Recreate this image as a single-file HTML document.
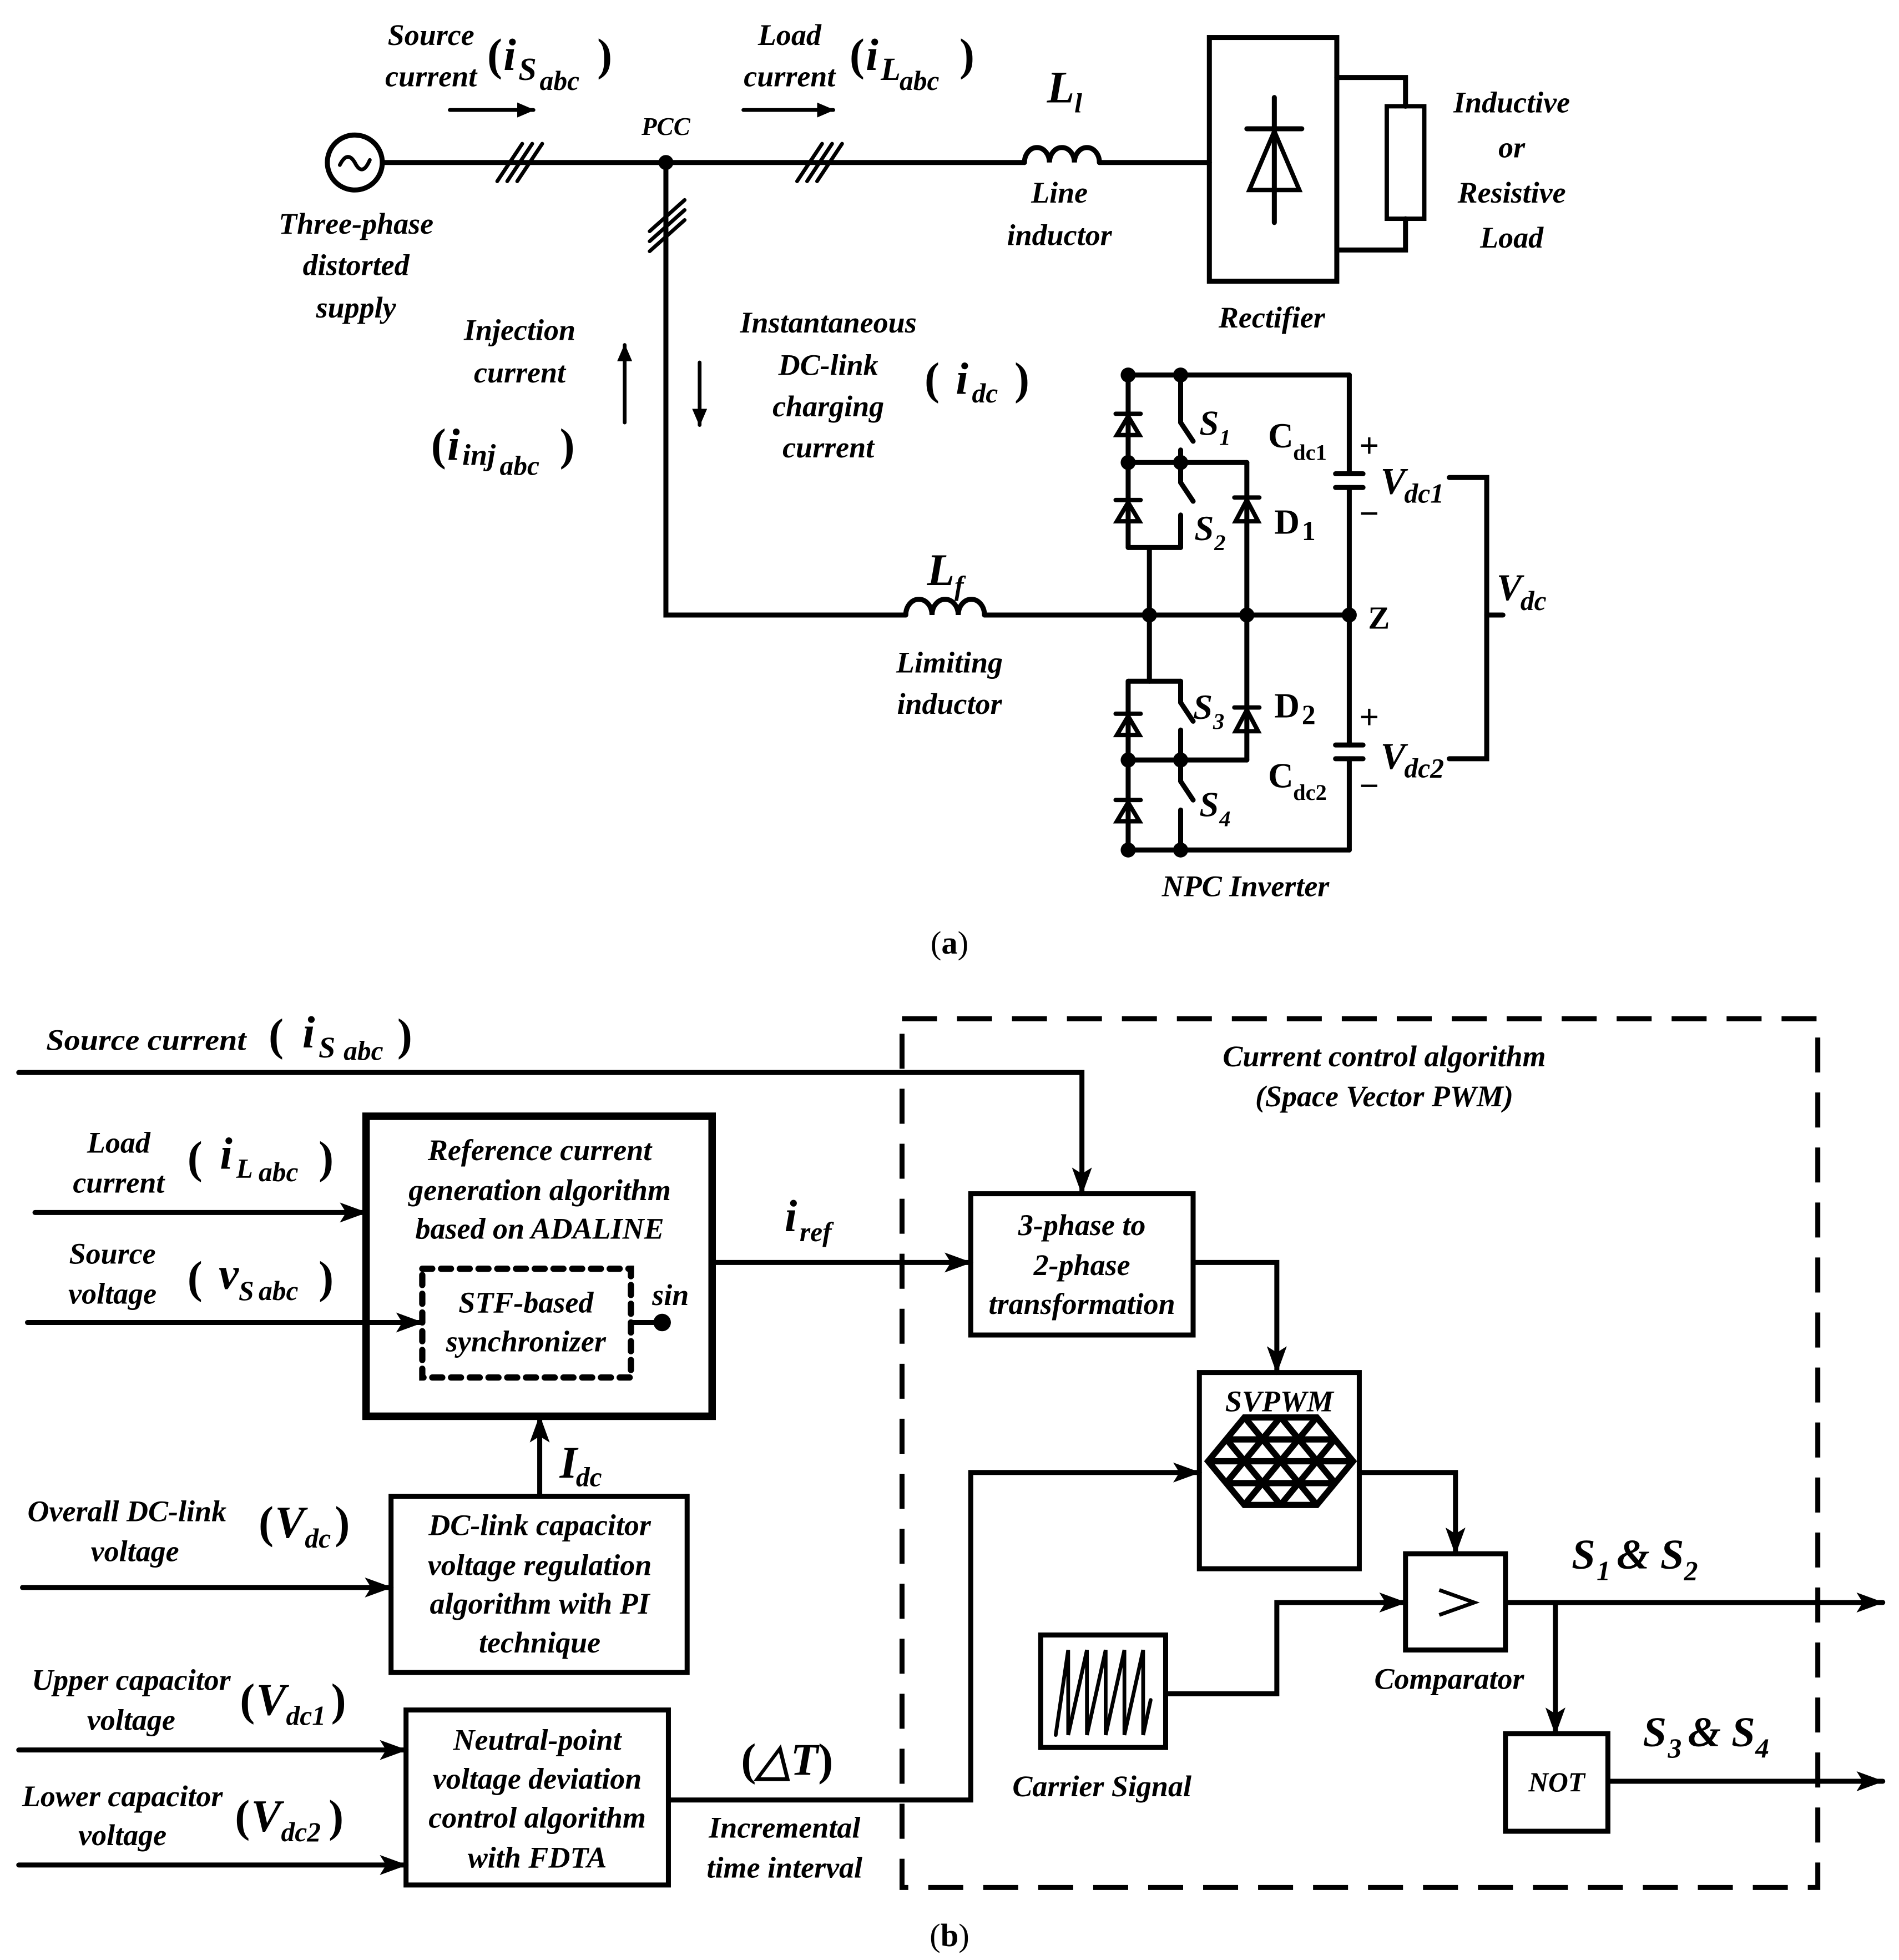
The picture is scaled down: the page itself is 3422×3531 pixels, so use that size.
<!DOCTYPE html>
<html><head><meta charset="utf-8"><style>
html,body{margin:0;padding:0;background:#fff}
svg{display:block}
text{font-family:"Liberation Serif",serif;font-weight:bold;font-style:italic;font-size:24px;fill:#000}
.n{font-style:normal}
.big{font-size:36px}
.sub{font-size:22px}
</style></head><body>
<svg width="3422" height="3531" viewBox="0 0 1520 1568" preserveAspectRatio="none" xmlns="http://www.w3.org/2000/svg">
<defs>
<marker id="ar" markerWidth="22" markerHeight="16" refX="21" refY="8" orient="auto" markerUnits="userSpaceOnUse">
<path d="M0,0 L22,8 L0,16 L5,8 Z" fill="#000"/></marker>
<marker id="ar2" markerWidth="14" markerHeight="12" refX="13" refY="6" orient="auto" markerUnits="userSpaceOnUse">
<path d="M0,0 L14,6 L0,12 Z" fill="#000"/></marker>
<clipPath id="hex"><polygon points="996,1134 1054,1134 1083,1169 1054,1204 996,1204 967,1169"/></clipPath>
</defs>
<g stroke="#000" stroke-width="4" fill="none" stroke-linecap="round">
<circle cx="284" cy="130" r="22"/>
<path d="M272,132 q6,-12 12,-2 q6,12 12,-2" stroke-width="3"/>
<line x1="306" y1="130" x2="820" y2="130"/>
<g stroke-width="3"><line x1="398" y1="145" x2="418" y2="115"/><line x1="406" y1="145" x2="426" y2="115"/><line x1="414" y1="145" x2="434" y2="115"/>
<line x1="638" y1="145" x2="658" y2="115"/><line x1="646" y1="145" x2="666" y2="115"/><line x1="654" y1="145" x2="674" y2="115"/>
<line x1="520" y1="185" x2="548" y2="160"/><line x1="520" y1="193" x2="548" y2="168"/><line x1="520" y1="201" x2="548" y2="176"/></g>
<path d="M820,130 a10,12 0 0 1 20,0 a10,12 0 0 1 20,0 a10,12 0 0 1 20,0"/>
<line x1="880" y1="130" x2="968" y2="130"/>
<rect x="968" y="30" width="102" height="195"/>
<line x1="1020" y1="78" x2="1020" y2="178"/>
<polygon points="1000,152 1040,152 1020,105" stroke-width="3.5"/>
<line x1="998" y1="103" x2="1042" y2="103"/>
<polyline points="1070,62 1125,62 1125,85"/>
<polyline points="1070,200 1125,200 1125,175"/>
<rect x="1110" y="85" width="30" height="90" stroke-width="3.5"/>
<polyline points="533,130 533,492 725,492"/>
<path d="M725,492 a10,12 0 0 1 21,0 a10,12 0 0 1 21,0 a10,12 0 0 1 21,0"/>
<line x1="788" y1="492" x2="920" y2="492"/>
<line x1="500" y1="338" x2="500" y2="276" marker-end="url(#ar2)" stroke-width="3"/>
<line x1="560" y1="290" x2="560" y2="340" marker-end="url(#ar2)" stroke-width="3"/>
<line x1="360" y1="88" x2="427" y2="88" marker-end="url(#ar2)" stroke-width="3"/>
<line x1="595" y1="88" x2="667" y2="88" marker-end="url(#ar2)" stroke-width="3"/>
<line x1="903" y1="300" x2="1080" y2="300"/>
<line x1="903" y1="680" x2="1080" y2="680"/>
<line x1="1080" y1="300" x2="1080" y2="379"/><line x1="1080" y1="390" x2="1080" y2="596"/><line x1="1080" y1="607" x2="1080" y2="680"/>
<line x1="1069" y1="379" x2="1091" y2="379"/><line x1="1069" y1="390" x2="1091" y2="390"/>
<line x1="1069" y1="596" x2="1091" y2="596"/><line x1="1069" y1="607" x2="1091" y2="607"/>
<line x1="903" y1="300" x2="903" y2="438"/><line x1="903" y1="438" x2="945" y2="438"/>
<line x1="903" y1="370" x2="998" y2="370"/><line x1="998" y1="370" x2="998" y2="608"/>
<line x1="920" y1="438" x2="920" y2="545"/><line x1="920" y1="492" x2="1080" y2="492"/>
<line x1="903" y1="545" x2="945" y2="545"/><line x1="903" y1="545" x2="903" y2="680"/>
<line x1="903" y1="608" x2="998" y2="608"/>
<path d="M945,300 V338 L955,353 M945,360 V370 M945,370 V386 L955,401 M945,412 V438"/>
<path d="M945,545 V562 L955,577 M945,584 V625 L955,640 M945,648 V680"/>
<g stroke-width="3.5">
<polygon points="894,348 912,348 903,333"/><line x1="893" y1="331" x2="913" y2="331"/>
<polygon points="894,417 912,417 903,402"/><line x1="893" y1="400" x2="913" y2="400"/>
<polygon points="989,417 1007,417 998,400"/><line x1="988" y1="398" x2="1008" y2="398"/>
<polygon points="894,588 912,588 903,573"/><line x1="893" y1="571" x2="913" y2="571"/>
<polygon points="894,657 912,657 903,642"/><line x1="893" y1="640" x2="913" y2="640"/>
<polygon points="989,585 1007,585 998,568"/><line x1="988" y1="566" x2="1008" y2="566"/>
</g>
<polyline points="1160,382 1190,382 1190,607 1160,607"/>
<line x1="1190" y1="492" x2="1203" y2="492"/>
<rect x="722" y="815" width="733" height="695" stroke-dasharray="28,16" stroke-linecap="butt"/>
<rect x="293" y="893" width="277" height="240" stroke-width="6"/>
<rect x="338" y="1015" width="167" height="87" stroke-dasharray="8,7" stroke-width="5"/>
<line x1="505" y1="1058" x2="530" y2="1058"/>
<rect x="313" y="1197" width="237" height="141"/>
<rect x="325" y="1368" width="210" height="140"/>
<rect x="777" y="955" width="178" height="113"/>
<rect x="960" y="1098" width="128" height="157"/>
<rect x="1125" y="1243" width="80" height="77"/>
<rect x="833" y="1308" width="100" height="90"/>
<rect x="1205" y="1387" width="82" height="78"/>
<polyline points="15,858 866,858 866,955" marker-end="url(#ar)"/>
<line x1="28" y1="970" x2="293" y2="970" marker-end="url(#ar)"/>
<line x1="22" y1="1058" x2="338" y2="1058" marker-end="url(#ar)"/>
<line x1="432" y1="1197" x2="432" y2="1133" marker-end="url(#ar)"/>
<line x1="18" y1="1270" x2="313" y2="1270" marker-end="url(#ar)"/>
<line x1="15" y1="1400" x2="325" y2="1400" marker-end="url(#ar)"/>
<line x1="15" y1="1492" x2="325" y2="1492" marker-end="url(#ar)"/>
<line x1="570" y1="1010" x2="777" y2="1010" marker-end="url(#ar)"/>
<polyline points="955,1010 1022,1010 1022,1098" marker-end="url(#ar)"/>
<polyline points="535,1440 777,1440 777,1178 960,1178" marker-end="url(#ar)"/>
<polyline points="1088,1178 1165,1178 1165,1243" marker-end="url(#ar)"/>
<polyline points="933,1355 1022,1355 1022,1282 1125,1282" marker-end="url(#ar)"/>
<line x1="1205" y1="1282" x2="1507" y2="1282" marker-end="url(#ar)"/>
<line x1="1245" y1="1282" x2="1245" y2="1387" marker-end="url(#ar)"/>
<line x1="1287" y1="1425" x2="1507" y2="1425" marker-end="url(#ar)"/>
<path d="M1152,1272 L1180,1282 L1152,1292" stroke-width="3" stroke-linecap="butt" stroke-linejoin="miter"/>
<polyline points="845,1388 855,1320 855,1388 870,1320 870,1388 885,1320 885,1388 900,1320 900,1388 915,1320 915,1388 921,1360" stroke-width="3"/>
<g clip-path="url(#hex)" stroke-width="5">
<line x1="960" y1="1151.5" x2="1090" y2="1151.5"/><line x1="960" y1="1169" x2="1090" y2="1169"/><line x1="960" y1="1186.5" x2="1090" y2="1186.5"/>
<line x1="909.5" y1="1064" x2="1054" y2="1239"/><line x1="938.5" y1="1064" x2="1083" y2="1239"/><line x1="967.5" y1="1064" x2="1112" y2="1239"/><line x1="996.5" y1="1064" x2="1141" y2="1239"/><line x1="1025.5" y1="1064" x2="1170" y2="1239"/>
<line x1="1140.5" y1="1064" x2="996" y2="1239"/><line x1="1111.5" y1="1064" x2="967" y2="1239"/><line x1="1082.5" y1="1064" x2="938" y2="1239"/><line x1="1053.5" y1="1064" x2="909" y2="1239"/><line x1="1024.5" y1="1064" x2="880" y2="1239"/>
</g>
<polygon points="996,1134 1054,1134 1083,1169 1054,1204 996,1204 967,1169" stroke-width="5"/>
</g>
<g fill="#000">
<circle cx="533" cy="130" r="6"/><circle cx="903" cy="300" r="6"/><circle cx="945" cy="300" r="6"/><circle cx="903" cy="370" r="6"/><circle cx="945" cy="370" r="6"/>
<circle cx="920" cy="492" r="6"/><circle cx="998" cy="492" r="6"/><circle cx="1080" cy="492" r="6"/>
<circle cx="903" cy="608" r="6"/><circle cx="945" cy="608" r="6"/><circle cx="903" cy="680" r="6"/><circle cx="945" cy="680" r="6"/>
<circle cx="530" cy="1058" r="7"/>
</g>
<!-- (a) text -->
<text x="345" y="36" text-anchor="middle">Source</text>
<text x="345" y="69" text-anchor="middle">current</text>
<text x="390" y="56" class="big n">(</text><text x="403" y="56" class="big">i</text><text x="415" y="64" style="font-size:26px">S</text><text x="432" y="72" class="sub">abc</text><text x="478" y="56" class="big n">)</text>
<text x="632" y="36" text-anchor="middle">Load</text>
<text x="632" y="69" text-anchor="middle">current</text>
<text x="680" y="56" class="big n">(</text><text x="693" y="56" class="big">i</text><text x="705" y="64" style="font-size:26px">L</text><text x="720" y="72" class="sub">abc</text><text x="768" y="56" class="big n">)</text>
<text x="533" y="108" text-anchor="middle" style="font-size:20px">PCC</text>
<text x="838" y="82" class="big">L</text><text x="860" y="90" class="sub">l</text>
<text x="848" y="162" text-anchor="middle">Line</text><text x="848" y="196" text-anchor="middle">inductor</text>
<text x="1210" y="90" text-anchor="middle">Inductive</text><text x="1210" y="126" text-anchor="middle">or</text><text x="1210" y="162" text-anchor="middle">Resistive</text><text x="1210" y="198" text-anchor="middle">Load</text>
<text x="1018" y="262" text-anchor="middle">Rectifier</text>
<text x="285" y="187" text-anchor="middle">Three-phase</text><text x="285" y="220" text-anchor="middle">distorted</text><text x="285" y="254" text-anchor="middle">supply</text>
<text x="416" y="272" text-anchor="middle">Injection</text><text x="416" y="306" text-anchor="middle">current</text>
<text x="345" y="368" class="big n">(</text><text x="358" y="368" class="big">i</text><text x="370" y="372">inj</text><text x="400" y="380" class="sub">abc</text><text x="448" y="368" class="big n">)</text>
<text x="663" y="266" text-anchor="middle">Instantaneous</text><text x="663" y="300" text-anchor="middle">DC-link</text><text x="663" y="333" text-anchor="middle">charging</text><text x="663" y="366" text-anchor="middle">current</text>
<text x="740" y="315" class="big n">(</text><text x="765" y="315" class="big">i</text><text x="778" y="322" class="sub">dc</text><text x="812" y="315" class="big n">)</text>
<text x="742" y="468" class="big">L</text><text x="764" y="476" class="sub">f</text>
<text x="760" y="538" text-anchor="middle">Limiting</text><text x="760" y="571" text-anchor="middle">inductor</text>
<text x="960" y="348" style="font-size:28px">S</text><text x="976" y="356" style="font-size:18px">1</text>
<text x="956" y="432" style="font-size:28px">S</text><text x="972" y="440" style="font-size:18px">2</text>
<text x="955" y="575" style="font-size:28px">S</text><text x="971" y="583" style="font-size:18px">3</text>
<text x="960" y="653" style="font-size:28px">S</text><text x="976" y="661" style="font-size:18px">4</text>
<text x="1020" y="427" class="n" style="font-size:28px">D</text><text x="1042" y="432" class="n" style="font-size:22px">1</text>
<text x="1020" y="574" class="n" style="font-size:28px">D</text><text x="1042" y="579" class="n" style="font-size:22px">2</text>
<text x="1015" y="358" class="n" style="font-size:28px">C</text><text x="1035" y="368" class="n" style="font-size:18px">dc1</text>
<text x="1015" y="630" class="n" style="font-size:28px">C</text><text x="1035" y="640" class="n" style="font-size:18px">dc2</text>
<text x="1088" y="366" class="n" style="font-size:28px">+</text><text x="1088" y="420" class="n" style="font-size:28px">−</text>
<text x="1088" y="583" class="n" style="font-size:28px">+</text><text x="1088" y="638" class="n" style="font-size:28px">−</text>
<text x="1105" y="395" style="font-size:30px">V</text><text x="1124" y="402" class="sub">dc1</text>
<text x="1105" y="615" style="font-size:30px">V</text><text x="1124" y="622" class="sub">dc2</text>
<text x="1198" y="480" style="font-size:30px">V</text><text x="1217" y="488" class="sub">dc</text>
<text x="1095" y="503" class="n" style="font-size:26px">Z</text>
<text x="997" y="717" text-anchor="middle">NPC Inverter</text>
<text x="760" y="763" text-anchor="middle" class="n" style="font-size:26px;font-weight:normal">(<tspan font-weight="bold">a</tspan>)</text>
<!-- (b) text -->
<text x="37" y="840" textLength="160" lengthAdjust="spacingAndGlyphs">Source current</text>
<text x="215" y="840" class="big n">(</text><text x="242" y="838" class="big">i</text><text x="255" y="846">S</text><text x="275" y="848" class="sub">abc</text><text x="318" y="840" class="big n">)</text>
<text x="95" y="922" text-anchor="middle">Load</text><text x="95" y="954" text-anchor="middle">current</text>
<text x="150" y="938" class="big n">(</text><text x="176" y="935" class="big">i</text><text x="189" y="942" class="sub">L</text><text x="207" y="945" class="sub">abc</text><text x="255" y="938" class="big n">)</text>
<text x="90" y="1011" text-anchor="middle">Source</text><text x="90" y="1043" text-anchor="middle">voltage</text>
<text x="150" y="1034" class="big n">(</text><text x="175" y="1031" class="big">v</text><text x="191" y="1040" class="sub">S</text><text x="207" y="1040" class="sub">abc</text><text x="255" y="1034" class="big n">)</text>
<text x="432" y="928" text-anchor="middle">Reference current</text>
<text x="432" y="960" text-anchor="middle">generation algorithm</text>
<text x="432" y="991" text-anchor="middle">based on ADALINE</text>
<text x="421" y="1050" text-anchor="middle">STF-based</text><text x="421" y="1081" text-anchor="middle">synchronizer</text>
<text x="522" y="1044">sin</text>
<text x="628" y="985" class="big">i</text><text x="640" y="993" class="sub">ref</text>
<text x="448" y="1182" class="big">I</text><text x="461" y="1189" class="sub">dc</text>
<text x="22" y="1217">Overall DC-link</text><text x="108" y="1249" text-anchor="middle">voltage</text>
<text x="207" y="1230" class="big n">(</text><text x="220" y="1230" class="big">V</text><text x="244" y="1238" class="sub">dc</text><text x="268" y="1230" class="big n">)</text>
<text x="432" y="1228" text-anchor="middle">DC-link capacitor</text>
<text x="432" y="1260" text-anchor="middle">voltage regulation</text>
<text x="432" y="1291" text-anchor="middle">algorithm with PI</text>
<text x="432" y="1322" text-anchor="middle">technique</text>
<text x="105" y="1352" text-anchor="middle">Upper capacitor</text><text x="105" y="1384" text-anchor="middle">voltage</text>
<text x="192" y="1372" class="big n">(</text><text x="205" y="1372" class="big">V</text><text x="229" y="1380" class="sub">dc1</text><text x="265" y="1372" class="big n">)</text>
<text x="98" y="1445" text-anchor="middle">Lower capacitor</text><text x="98" y="1476" text-anchor="middle">voltage</text>
<text x="188" y="1465" class="big n">(</text><text x="201" y="1465" class="big">V</text><text x="225" y="1473" class="sub">dc2</text><text x="263" y="1465" class="big n">)</text>
<text x="430" y="1400" text-anchor="middle">Neutral-point</text>
<text x="430" y="1431" text-anchor="middle">voltage deviation</text>
<text x="430" y="1462" text-anchor="middle">control algorithm</text>
<text x="430" y="1494" text-anchor="middle">with FDTA</text>
<text x="630" y="1420" text-anchor="middle" class="big n">(<tspan font-style="italic">△T</tspan>)</text>
<text x="628" y="1470" text-anchor="middle">Incremental</text><text x="628" y="1502" text-anchor="middle">time interval</text>
<text x="1108" y="853" text-anchor="middle">Current control algorithm</text>
<text x="1108" y="885" text-anchor="middle">(Space Vector PWM)</text>
<text x="866" y="988" text-anchor="middle">3-phase to</text>
<text x="866" y="1020" text-anchor="middle">2-phase</text>
<text x="866" y="1051" text-anchor="middle">transformation</text>
<text x="1024" y="1129" text-anchor="middle">SVPWM</text>
<text x="1160" y="1351" text-anchor="middle">Comparator</text>
<text x="882" y="1437" text-anchor="middle">Carrier Signal</text>
<text x="1246" y="1433" text-anchor="middle" class="sub">NOT</text>
<text x="1258" y="1255" style="font-size:34px">S</text><text x="1278" y="1264" class="sub">1</text><text x="1294" y="1255" style="font-size:34px">&amp; S</text><text x="1348" y="1264" class="sub">2</text>
<text x="1315" y="1397" style="font-size:34px">S</text><text x="1335" y="1406" class="sub">3</text><text x="1351" y="1397" style="font-size:34px">&amp; S</text><text x="1405" y="1406" class="sub">4</text>
<text x="760" y="1557" text-anchor="middle" class="n" style="font-size:26px;font-weight:normal">(<tspan font-weight="bold">b</tspan>)</text>
</svg>
</body></html>
